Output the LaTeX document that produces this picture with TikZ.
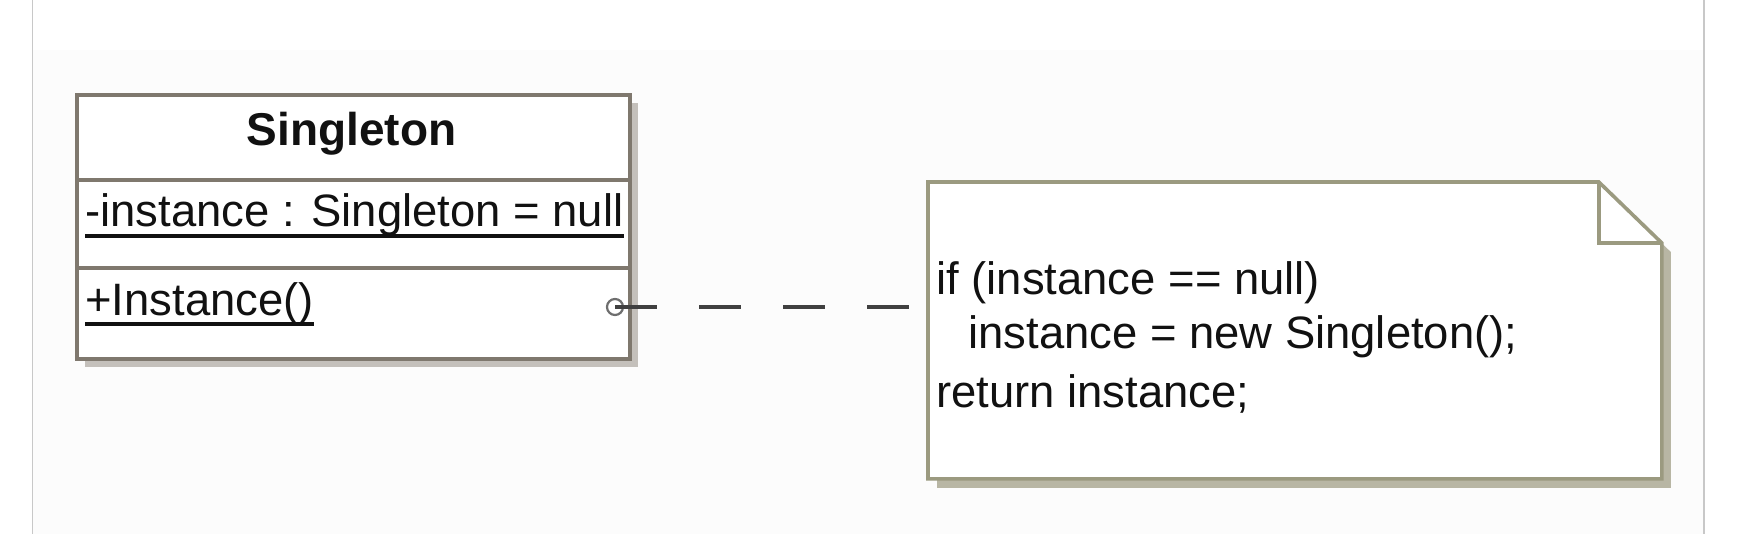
\documentclass[tikz,border=0pt]{standalone}
\usepackage{fontspec}
\setmainfont{Liberation Sans}
\usetikzlibrary{shadows}
\definecolor{clsborder}{HTML}{7F786E}
\definecolor{clsshadow}{HTML}{C4C0BB}
\definecolor{noteborder}{HTML}{9B9A80}
\definecolor{noteshadow}{HTML}{B8B6A4}
\definecolor{dashgray}{HTML}{404040}
\definecolor{circgray}{HTML}{6E6E6E}
\definecolor{framegray}{HTML}{C8C8C8}
\definecolor{bggray}{HTML}{FCFCFC}
\definecolor{txtcol}{HTML}{111111}
\begin{document}
\begin{tikzpicture}[x=0.5pt,y=-0.5pt,
  clsbox/.style={draw=clsborder, line width=1.8pt, fill=white,
    drop shadow={shadow xshift=4pt, shadow yshift=-4pt, fill=clsshadow, opacity=1},
    inner sep=0pt, anchor=north west, minimum width=276.5pt, minimum height=132pt},
  sepline/.style={draw=clsborder, line width=1.8pt},
  txt/.style={inner sep=0pt, anchor=base west, text=txtcol, font=\fontsize{22.7}{27}\selectfont},
  titletxt/.style={inner sep=0pt, anchor=base, text=txtcol, font=\fontsize{23}{28}\selectfont\bfseries},
  uline/.style={draw=txtcol, line width=1.6pt},
  notebox/.style={inner sep=0pt, anchor=north west, minimum width=366.5pt, minimum height=148pt},
  noteline/.style={draw=noteborder, line width=1.8pt, line join=miter},
  dashconn/.style={draw=dashgray, line width=1.7pt, dash pattern=on 21pt off 21pt},
  portcirc/.style={draw=circgray, line width=1.1pt}]
\useasboundingbox (0,0) rectangle (1754,534);
% background and frame lines
\fill[bggray] (33,50) rectangle (1704,534);
\draw[framegray, line width=0.6pt] (32.5,0) -- (32.5,534);
\draw[framegray, line width=0.6pt] (1704,0) -- (1704,534);

% class box
\node[clsbox] (cls) at (75,93) {};
\draw[sepline] (cls.west |- 0,180) -- (cls.east |- 0,180);
\draw[sepline] (cls.west |- 0,268) -- (cls.east |- 0,268);
\node[titletxt] (title) at (351.5,146) {Singleton};
\node[txt] (attr) at (85,227) {-instance : Singleton = null};
\draw[uline] ([yshift=-4.5pt]attr.base west) -- ([yshift=-4.5pt]attr.base east);
\node[txt] (meth) at (85,315) {+Instance()};
\draw[uline] ([yshift=-4.5pt]meth.base west) -- ([yshift=-4.5pt]meth.base east);

% note
\node[notebox] (note) at (928,182) {};
\fill[noteshadow] ([shift={(9,9)}]note.north west) -- ([shift={(9-63,9)}]note.north east)
  -- ([shift={(9,9+61)}]note.north east) -- ([shift={(9,9)}]note.south east)
  -- ([shift={(9,9)}]note.south west) -- cycle;
\draw[noteline, fill=white] (note.north west) -- ([shift={(-63,0)}]note.north east)
  -- ([shift={(0,61)}]note.north east) -- (note.south east) -- (note.south west) -- cycle;
\draw[noteline] ([shift={(-63,0)}]note.north east) -- ([shift={(-63,61)}]note.north east)
  -- ([shift={(0,61)}]note.north east);
\node[txt] (n1) at (936,294) {if (instance == null)};
\node[txt] (n2) at (968,348) {instance = new Singleton();};
\node[txt] (n3) at (936,407) {return instance;};

% connector
\coordinate (port) at (615,307);
\draw[portcirc] (port) circle[radius=8];
\draw[dashconn] (port) -- (port -| note.west);
\end{tikzpicture}
\end{document}
